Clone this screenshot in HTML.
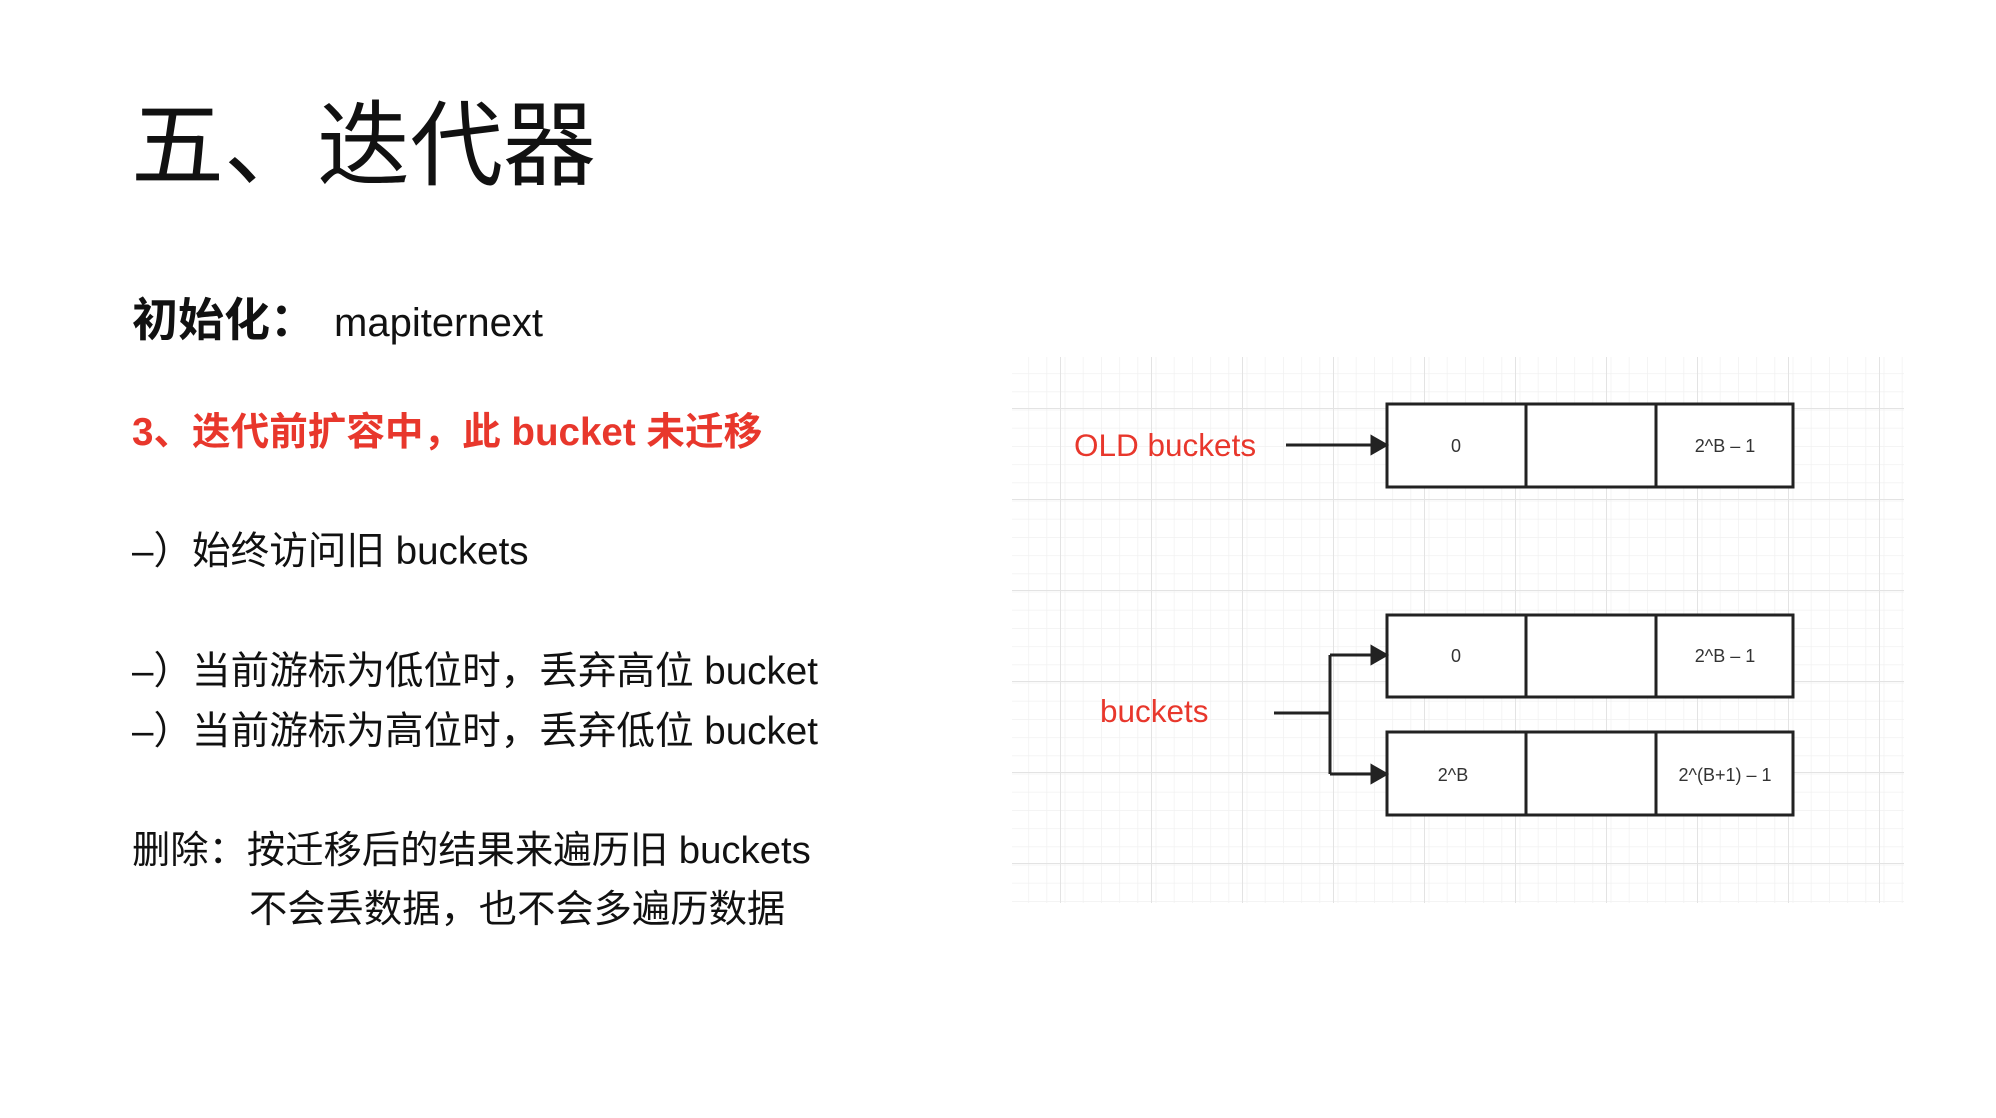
<!DOCTYPE html>
<html><head><meta charset="utf-8"><style>
html,body{margin:0;padding:0;background:#fff;}
body{width:1996px;height:1118px;position:relative;overflow:hidden;font-family:"Liberation Sans","Noto Sans CJK SC",sans-serif;color:#111;}
.t{position:absolute;white-space:nowrap;line-height:1;}
</style></head><body>
<div class="t" style="left:131px;top:100px;font-size:93px;">五、迭代器</div>
<div class="t" style="left:132px;top:297px;font-size:46px;font-weight:bold;">初始化：<span style="font-weight:normal;font-size:40px;position:relative;left:18px;">mapiternext</span></div>
<div class="t" style="left:132px;top:414px;font-size:38.6px;font-weight:bold;color:#e8372c;">3、迭代前扩容中，此 bucket 未迁移</div>
<div class="t" style="left:132px;top:533px;font-size:38.6px;">–）始终访问旧 buckets</div>
<div class="t" style="left:132px;top:653px;font-size:38.6px;">–）当前游标为低位时，丢弃高位 bucket</div>
<div class="t" style="left:132px;top:713px;font-size:38.6px;">–）当前游标为高位时，丢弃低位 bucket</div>
<div class="t" style="left:132px;top:832px;font-size:38.3px;">删除：按迁移后的结果来遍历旧 buckets</div>
<div class="t" style="left:249px;top:891px;font-size:38.3px;">不会丢数据，也不会多遍历数据</div>

<svg style="position:absolute;left:0;top:0" width="1996" height="1118">
<defs>
<pattern id="mn" x="1010" y="355" width="18.2" height="18.2" patternUnits="userSpaceOnUse"><path d="M0 0V18.2M0 0H18.2" stroke="#f1f1f1" stroke-width="1.5" fill="none"/></pattern>
<pattern id="mj" x="1060" y="317" width="91" height="91" patternUnits="userSpaceOnUse"><path d="M0 0V91M0 0H91" stroke="#e3e3e3" stroke-width="2" fill="none"/></pattern>
</defs>
<rect x="1012" y="357" width="892" height="546" fill="url(#mn)"/>
<rect x="1012" y="357" width="892" height="546" fill="url(#mj)"/>
<g font-family="Liberation Sans, sans-serif" fill="#e8372c" font-size="31.5">
<text x="1074" y="456">OLD buckets</text>
<text x="1100" y="722">buckets</text>
</g>
<g stroke="#222" stroke-width="3" fill="#fff">
<rect x="1387" y="404" width="406" height="83"/>
<line x1="1526" y1="404" x2="1526" y2="487"/><line x1="1656" y1="404" x2="1656" y2="487"/>
<rect x="1387" y="615" width="406" height="82"/>
<line x1="1526" y1="615" x2="1526" y2="697"/><line x1="1656" y1="615" x2="1656" y2="697"/>
<rect x="1387" y="732" width="406" height="83"/>
<line x1="1526" y1="732" x2="1526" y2="815"/><line x1="1656" y1="732" x2="1656" y2="815"/>
</g>
<g stroke="#222" stroke-width="3" fill="none">
<path d="M1286 445H1372"/><path d="M1372 437L1386 445L1372 453z" fill="#222"/>
<path d="M1274 713H1330M1330 655V774M1330 655H1372M1330 774H1372"/>
<path d="M1372 647L1386 655L1372 663z" fill="#222"/>
<path d="M1372 766L1386 774L1372 782z" fill="#222"/>
</g>
<g font-family="Liberation Sans, sans-serif" fill="#333" font-size="18" text-anchor="middle">
<text x="1456" y="452">0</text><text x="1725" y="452">2^B – 1</text>
<text x="1456" y="662">0</text><text x="1725" y="662">2^B – 1</text>
<text x="1453" y="781">2^B</text><text x="1725" y="781">2^(B+1) – 1</text>
</g>
</svg>
</body></html>
